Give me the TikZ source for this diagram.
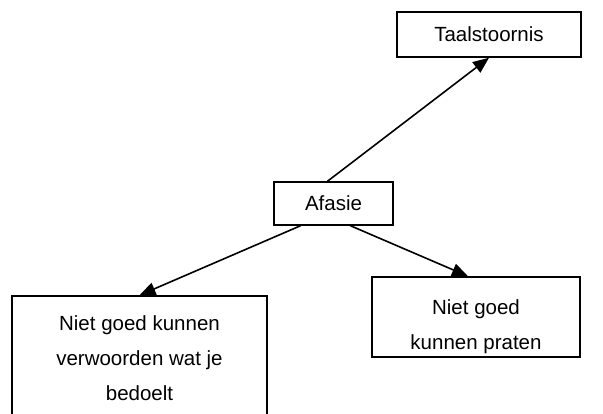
\documentclass[tikz,border=0pt]{standalone}
\usepackage{fontspec}
\setmainfont{Liberation Sans}
\usetikzlibrary{arrows.meta}

% box content of a fixed size: width, height, top gap, text
\newcommand\boxcontent[4]{%
  \parbox[c][#2][t]{#1}{\centering\fontsize{20.5}{35}\selectfont\vspace*{#3}#4\par}}
\newcommand\midcontent[3]{%
  \parbox[c][#2][c]{#1}{\centering\fontsize{20.5}{35}\selectfont #3\par}}

\begin{document}
\begin{tikzpicture}[x=1pt,y=-1pt,
  textbox/.style={draw=black,line width=1.5pt,inner sep=0pt,fill=white},
  link/.style={line width=1.6pt,-{Triangle[length=16pt,width=13pt]}}]
  \useasboundingbox (0,0) rectangle (603,414);
  \clip (0,0) rectangle (603,414);

  \node[textbox] (taal)  at (489,34.5)  {\midcontent{184pt}{45pt}{Taalstoornis}};
  \node[textbox] (afas)  at (333.5,203.5) {\midcontent{119pt}{43pt}{Afasie}};
  \node[textbox] (verw)  at (139.5,362) {\boxcontent{255pt}{132pt}{20pt}{Niet goed kunnen\\verwoorden wat je\\bedoelt}};
  \node[textbox] (prat)  at (476,317)   {\boxcontent{208pt}{80pt}{23pt}{Niet goed\\kunnen praten}};

  \draw[link] ([xshift=-6pt]afas.north) -- (taal.south);
  \draw[link] ([xshift=-33pt]afas.south) -- (verw.north);
  \draw[link] ([xshift=17pt]afas.south) -- ([xshift=-8pt]prat.north);
\end{tikzpicture}
\end{document}
